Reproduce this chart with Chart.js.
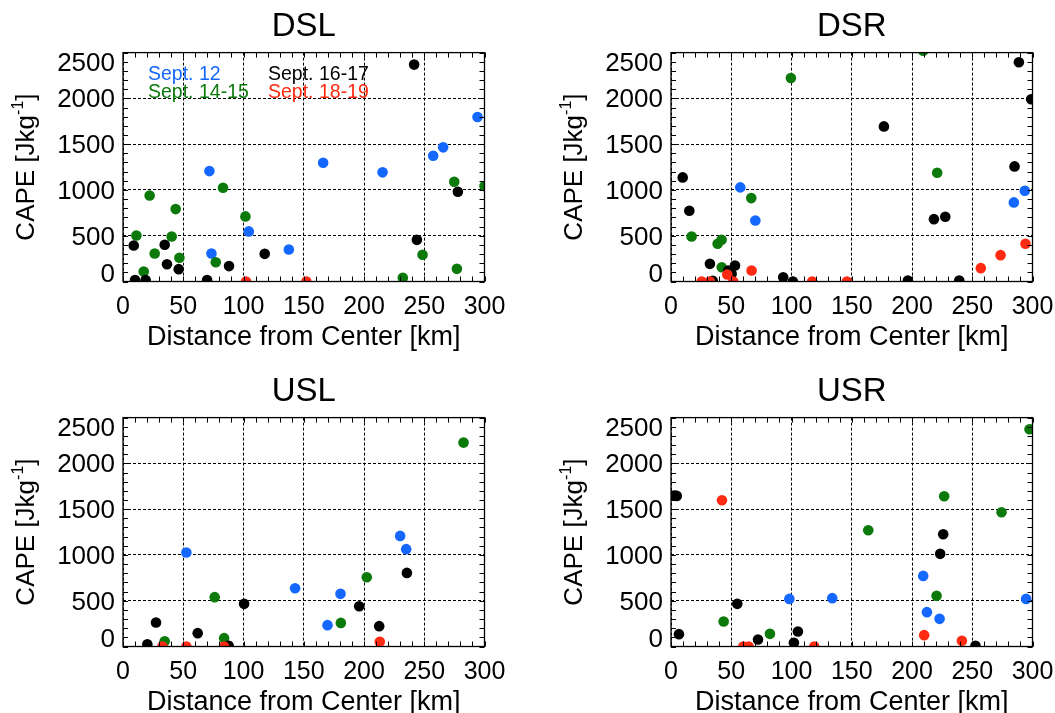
<!DOCTYPE html>
<html>
<head>
<meta charset="utf-8">
<script src="https://cdn.jsdelivr.net/npm/chart.js@4.4.0/dist/chart.umd.min.js"></script>
<style>
  html, body { margin: 0; padding: 0; background: #fff; overflow: hidden; }
  body { width: 1055px; height: 713px; position: relative; }
  canvas { position: absolute; }
</style>
</head>
<body>
<canvas id="dsl" width="548" height="365" style="left:0;top:0"></canvas>
<canvas id="dsr" width="548" height="365" style="left:548px;top:0"></canvas>
<canvas id="usl" width="548" height="365" style="left:0;top:365px"></canvas>
<canvas id="usr" width="548" height="365" style="left:548px;top:365px"></canvas>
<script>
// [distance km, CAPE J/kg] pairs per quadrant and date
const DSL_SEPT12 = [[71.7,1206],[73.4,306],[104.4,547],[137.6,350],[166.1,1297],[215.4,1192],[257.4,1374],[265.7,1465],[294.2,1797]];
const DSL_SEPT14 = [[11.1,503],[17.2,109],[22.1,940],[26.3,306],[40.4,492],[43.7,791],[46.8,259],[77.0,211],[83.0,1024],[101.6,711],[232.2,40],[248.6,292],[274.9,1090],[277.1,138],[300,1042]];
const DSL_SEPT16 = [[8.9,394],[10,16],[18.8,16],[34.6,401],[36.5,189],[46.2,135],[69.8,16],[88.0,168],[117.6,302],[241.6,2369],[243.9,455],[277.9,980]];
const DSL_SEPT18 = [[102.1,0],[152.2,0]];

const DSR_SEPT12 = [[57.5,1028],[70.0,667],[284.5,864],[293.6,991]];
const DSR_SEPT14 = [[17.1,492],[38.7,412],[42.0,455],[42.1,156],[66.6,911],[99.5,2223],[209.3,2520],[220.9,1188]];
const DSR_SEPT16 = [[9.7,1137],[15.2,773],[32.3,193],[34.6,8],[47.5,120],[50.3,84],[53.1,175],[93.1,47],[101.2,0],[176.7,1694],[196.6,11],[218.2,681],[227.6,707],[239.2,11],[285.1,1257],[288.7,2394],[298.9,1990]];
const DSR_SEPT18 = [[25.5,0],[32.3,0],[46.7,77],[51.7,0],[66.9,120],[117.2,0],[146.0,0],[257.1,146],[273.5,288],[294.2,412]];

const USL_SEPT12 = [[52.6,1026],[142.8,637],[169.7,233],[180.5,575],[230.0,1208],[235.0,1063]];
const USL_SEPT14 = [[34.6,58],[76.1,539],[83.9,91],[180.8,258],[202.3,757],[282.6,2227]];
const USL_SEPT16 = [[20.2,25],[27.4,262],[62.0,146],[87.7,7],[100.5,466],[196.0,440],[212.6,222],[235.6,804]];
const USL_SEPT18 = [[32.7,0],[52.6,0],[83.9,0],[213.1,51]];

const USR_SEPT12 = [[98.2,520],[133.8,528],[209.3,771],[212.4,375],[222.9,302],[294.7,520]];
const USR_SEPT14 = [[43.7,273],[82.1,138],[163.7,1270],[220.4,553],[226.7,1641],[274.3,1467],[297.5,2373]];
const USR_SEPT16 = [[3.0,1650],[4.8,1645],[6.6,135],[55.0,466],[72.2,76],[102.0,40],[105.3,164],[223.4,1012],[225.9,1226],[252.7,7]];
const USR_SEPT18 = [[42.3,1598],[60.0,0],[64.4,0],[118.9,0],[210.1,124],[241.4,62]];

const DATES = ['Sept. 12', 'Sept. 14-15', 'Sept. 16-17', 'Sept. 18-19'];
const COLORS = ['#1468ff', '#0b7a0b', '#000000', '#ff2a12'];
const X_TICKS = [0, 50, 100, 150, 200, 250, 300];
const Y_TICKS = [0, 500, 1000, 1500, 2000, 2500];

const FONT = '"Liberation Sans", Arial, Helvetica, sans-serif';

// frame, minor ticks, y labels (kept inside the frame height), y title, date key
const decorPlugin = {
  id: 'decor',
  afterDraw(chart) {
    const { ctx, chartArea: a, scales: { x, y } } = chart;
    ctx.save();
    ctx.strokeStyle = '#000';
    ctx.lineWidth = 1;
    ctx.beginPath();
    for (let v = 0; v <= 300; v += 10) {
      const px = Math.round(x.getPixelForValue(v)) + 0.5;
      ctx.moveTo(px, a.bottom); ctx.lineTo(px, a.bottom - 5);
      ctx.moveTo(px, a.top); ctx.lineTo(px, a.top + 5);
    }
    for (let v = 0; v <= 2500; v += 100) {
      const py = Math.round(y.getPixelForValue(v)) + 0.5;
      ctx.moveTo(a.left, py); ctx.lineTo(a.left + 5, py);
      ctx.moveTo(a.right, py); ctx.lineTo(a.right - 5, py);
    }
    ctx.stroke();
    ctx.lineWidth = 1.3;
    ctx.strokeRect(a.left, a.top, a.right - a.left, a.bottom - a.top);

    // y tick labels
    ctx.fillStyle = '#000';
    ctx.font = `26px ${FONT}`;
    ctx.textAlign = 'right';
    ctx.textBaseline = 'alphabetic';
    const cap = 25 * 0.716;
    Y_TICKS.forEach(v => {
      let py = y.getPixelForValue(v);
      py = Math.min(Math.max(py, a.top + cap / 2), a.bottom - cap / 2);
      ctx.fillText(String(v), a.left - 8, py + cap / 2);
    });

    // y title with superscript exponent
    const cy = (a.top + a.bottom) / 2;
    ctx.translate(a.left - 98, cy);
    ctx.rotate(-Math.PI / 2);
    ctx.textAlign = 'left';
    const mainFont = `26px ${FONT}`, supFont = `16px ${FONT}`;
    ctx.font = mainFont;
    const w1 = ctx.measureText('CAPE [Jkg').width;
    const w3 = ctx.measureText(']').width;
    ctx.font = supFont;
    const w2 = ctx.measureText('-1').width;
    const start = -(w1 + w2 + w3) / 2;
    const base = 26 * 0.716 / 2;
    ctx.font = mainFont;
    ctx.fillText('CAPE [Jkg', start, base);
    ctx.font = supFont;
    ctx.fillText('-1', start + w1, base - 11);
    ctx.font = mainFont;
    ctx.fillText(']', start + w1 + w2, base);
    ctx.restore();

    if (chart.options.plugins.decor.showKey) {
      ctx.save();
      ctx.font = `19.5px ${FONT}`;
      ctx.textAlign = 'left';
      ctx.textBaseline = 'alphabetic';
      const cols = [a.left + 25, a.left + 145];
      const rows = [a.top + 27.5, a.top + 45];
      DATES.forEach((d, i) => {
        ctx.fillStyle = COLORS[i];
        ctx.fillText(d, cols[Math.floor(i / 2)], rows[i % 2]);
      });
      ctx.restore();
    }
  }
};

function makePanel(id, title, series, showKey) {
  const datasets = series.map((pts, i) => ({
    label: DATES[i],
    data: pts.map(p => ({ x: p[0], y: p[1] })),
    backgroundColor: COLORS[i],
    borderWidth: 0,
    pointRadius: 5.3,
    pointHoverRadius: 5.3,
    clip: 0,
    order: 3 - i
  }));
  new Chart(document.getElementById(id), {
    type: 'scatter',
    data: { datasets },
    options: {
      responsive: false,
      animation: false,
      events: [],
      layout: { padding: { left: 0, right: 63.5, top: 0, bottom: 0 } },
      plugins: {
        legend: { display: false },
        tooltip: { enabled: false },
        title: {
          display: true,
          fullSize: false,
          text: title,
          color: '#000',
          font: { size: 33, family: FONT, weight: 'normal' },
          padding: { top: 7, bottom: 6 }
        },
        decor: { showKey }
      },
      scales: {
        x: {
          type: 'linear',
          min: 0, max: 300,
          afterBuildTicks(s) { s.ticks = X_TICKS.map(v => ({ value: v })); },
          ticks: { color: '#000', font: { size: 25, family: FONT }, padding: 11, maxRotation: 0, autoSkip: false },
          grid: { color: '#000', lineWidth: 1, drawTicks: false },
          border: { display: false, dash: [3, 2] },
          title: {
            display: true,
            text: 'Distance from Center [km]',
            color: '#000',
            font: { size: 27, family: FONT },
            padding: { top: 0, bottom: 11 }
          },
          afterFit(s) { s.height = 83.5; }
        },
        y: {
          type: 'linear',
          min: 0, max: 2500,
          afterBuildTicks(s) { s.ticks = Y_TICKS.map(v => ({ value: v })); },
          ticks: { display: false },
          grid: { color: '#000', lineWidth: 1, drawTicks: false },
          border: { display: false, dash: [3, 2] },
          afterFit(s) { s.width = 123; }
        }
      }
    },
    plugins: [decorPlugin]
  });
}

makePanel('dsl', 'DSL', [DSL_SEPT12, DSL_SEPT14, DSL_SEPT16, DSL_SEPT18], true);
makePanel('dsr', 'DSR', [DSR_SEPT12, DSR_SEPT14, DSR_SEPT16, DSR_SEPT18], false);
makePanel('usl', 'USL', [USL_SEPT12, USL_SEPT14, USL_SEPT16, USL_SEPT18], false);
makePanel('usr', 'USR', [USR_SEPT12, USR_SEPT14, USR_SEPT16, USR_SEPT18], false);
</script>
</body>
</html>
